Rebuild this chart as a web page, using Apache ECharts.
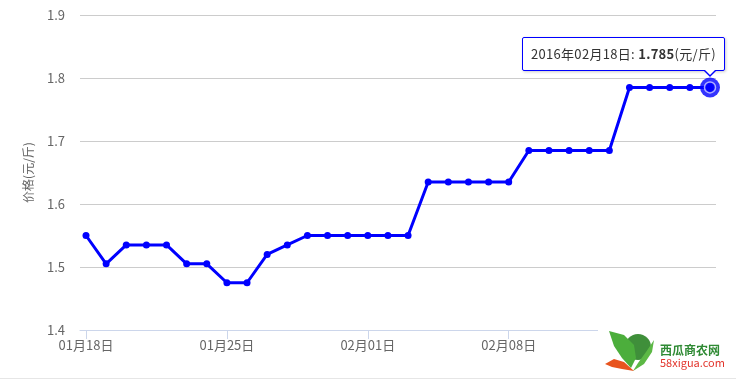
<!DOCTYPE html>
<html>
<head>
<meta charset="utf-8">
<script src="https://cdn.jsdelivr.net/npm/echarts@6/dist/echarts.min.js"></script>
<style>
html,body{margin:0;padding:0;background:#fff;}
#chart{width:736px;height:388px;}
</style>
</head>
<body>
<div id="chart"></div>
<script>
var year = '2016';
var dates = ['01月18日','01月19日','01月20日','01月21日','01月22日','01月23日','01月24日',
             '01月25日','01月26日','01月27日','01月28日','01月29日','01月30日','01月31日',
             '02月01日','02月02日','02月03日','02月04日','02月05日','02月06日','02月07日',
             '02月08日','02月09日','02月10日','02月11日','02月12日','02月13日','02月14日',
             '02月15日','02月16日','02月17日','02月18日'];
var prices = [1.55,1.505,1.535,1.535,1.535,1.505,1.505,
              1.475,1.475,1.52,1.535,1.55,1.55,1.55,
              1.55,1.55,1.55,1.635,1.635,1.635,1.635,
              1.635,1.685,1.685,1.685,1.685,1.685,1.785,
              1.785,1.785,1.785,1.785];
var yTicks = [1.4,1.5,1.6,1.7,1.8,1.9];
var unit = '(元/斤)';
var yName = '价格(元/斤)';

var last = prices.length - 1;
var FONT = '"Noto Sans CJK SC", "Microsoft YaHei", sans-serif';
var BLUE = '#0000ff';

var chart = echarts.init(document.getElementById('chart'));
chart.setOption({
  animation: false,
  textStyle: { fontFamily: FONT },
  grid: [
    { left: 80, right: 20, top: 15, bottom: 58 },
    { left: 86, right: 26, top: 15, bottom: 58 }
  ],
  xAxis: [
    { type: 'value', gridIndex: 0, min: 0, max: 1,
      axisLine: { show: true, lineStyle: { color: '#ccd6eb', width: 1 } },
      axisTick: { show: false }, axisLabel: { show: false }, splitLine: { show: false } },
    { type: 'category', gridIndex: 1, data: dates, boundaryGap: false,
      axisLine: { show: false },
      axisTick: { show: true, interval: 6, length: 9, lineStyle: { color: '#ccd6eb' } },
      axisLabel: { interval: 6, color: '#666', fontSize: 13, margin: 9, fontFamily: FONT },
      splitLine: { show: false } }
  ],
  yAxis: [
    { type: 'value', gridIndex: 0, min: yTicks[0], max: yTicks[yTicks.length - 1], interval: 0.1,
      name: yName, nameLocation: 'middle', nameGap: 46,
      nameTextStyle: { color: '#666', fontSize: 12, fontFamily: FONT },
      axisLine: { show: false }, axisTick: { show: false },
      axisLabel: { color: '#666', fontSize: 13, margin: 15, fontFamily: FONT,
        formatter: function (v) { return v.toFixed(1); } },
      splitLine: { show: true, lineStyle: { color: '#cccccc', width: 1 } } },
    { type: 'value', gridIndex: 1, min: yTicks[0], max: yTicks[yTicks.length - 1], show: false }
  ],
  tooltip: {
    trigger: 'item',
    triggerOn: 'none',
    alwaysShowContent: true,
    backgroundColor: '#ffffff',
    borderColor: BLUE,
    borderWidth: 1,
    padding: [6, 8],
    extraCssText: 'border-radius:2px;box-shadow:1px 1px 3px rgba(0,0,0,0.2);overflow:visible;',
    textStyle: { color: '#333', fontSize: 13, fontFamily: FONT },
    position: function (point, params, dom, rect, size) {
      return [point[0] - size.contentSize[0] + 15, point[1] - size.contentSize[1] - 16];
    },
    formatter: function (p) {
      var i = p.dataIndex;
      return '<span style="letter-spacing:0.3px">' + year + '年' + dates[i] + ': <b>' + prices[i].toFixed(3) + '</b>' + unit + '</span>' +
        '<div style="position:absolute;right:7px;bottom:-7px;width:0;height:0;border-left:7px solid transparent;border-right:7px solid transparent;border-top:7px solid ' + BLUE + ';"></div>' +
        '<div style="position:absolute;right:8px;bottom:-5px;width:0;height:0;border-left:6px solid transparent;border-right:6px solid transparent;border-top:6px solid #fff;"></div>';
    }
  },
  series: [
    { type: 'line', xAxisIndex: 1, yAxisIndex: 1, data: prices,
      symbol: 'circle', symbolSize: 7, showAllSymbol: true,
      lineStyle: { color: BLUE, width: 3 },
      itemStyle: { color: BLUE },
      z: 3 },
    { type: 'scatter', xAxisIndex: 1, yAxisIndex: 1, silent: true,
      data: [[dates[last], prices[last]]],
      symbol: 'circle', symbolSize: 20,
      itemStyle: { color: BLUE }, z: 4, tooltip: { show: false } },
    { type: 'scatter', xAxisIndex: 1, yAxisIndex: 1, silent: true,
      data: [[dates[last], prices[last]]],
      symbol: 'circle', symbolSize: 11,
      itemStyle: { color: BLUE, borderColor: 'rgba(255,255,255,0.8)', borderWidth: 1.5 }, z: 5, tooltip: { show: false } }
  ],
  graphic: [
    { type: 'line', shape: { x1: 0, y1: 378.5, x2: 736, y2: 378.5 },
      style: { stroke: '#e6e6e6', lineWidth: 1 }, z: 50 },
    { type: 'rect', shape: { x: 598, y: 325, width: 138, height: 52 },
      style: { fill: '#ffffff' }, z: 100 },
    { type: 'circle', shape: { cx: 638, cy: 347, r: 13 },
      style: { fill: '#3f8f3a' }, z: 101 },
    { type: 'polygon', shape: { points: [[609,331],[624,335],[634,345],[636,358],[631,368],[622,358],[614,346]] },
      style: { fill: '#4cae3c' }, z: 102 },
    { type: 'polygon', shape: { points: [[654,340],[646,352],[638,363],[633,371],[644,364],[652,352]] },
      style: { fill: '#5cb845' }, z: 102 },
    { type: 'polygon', shape: { points: [[605,364],[614,359],[624,362],[634,371],[622,369],[612,367]] },
      style: { fill: '#e8541e' }, z: 102 },
    { type: 'text', x: 660, y: 344,
      style: { text: '西瓜商农网', fill: '#2f8a34', font: 'bold 12px ' + FONT }, z: 103 },
    { type: 'text', x: 660, y: 357,
      style: { text: '58xigua.com', fill: '#e2342b', font: '11px ' + FONT }, z: 103 }
  ]
});
chart.dispatchAction({ type: 'showTip', seriesIndex: 0, dataIndex: last });
</script>
</body>
</html>
